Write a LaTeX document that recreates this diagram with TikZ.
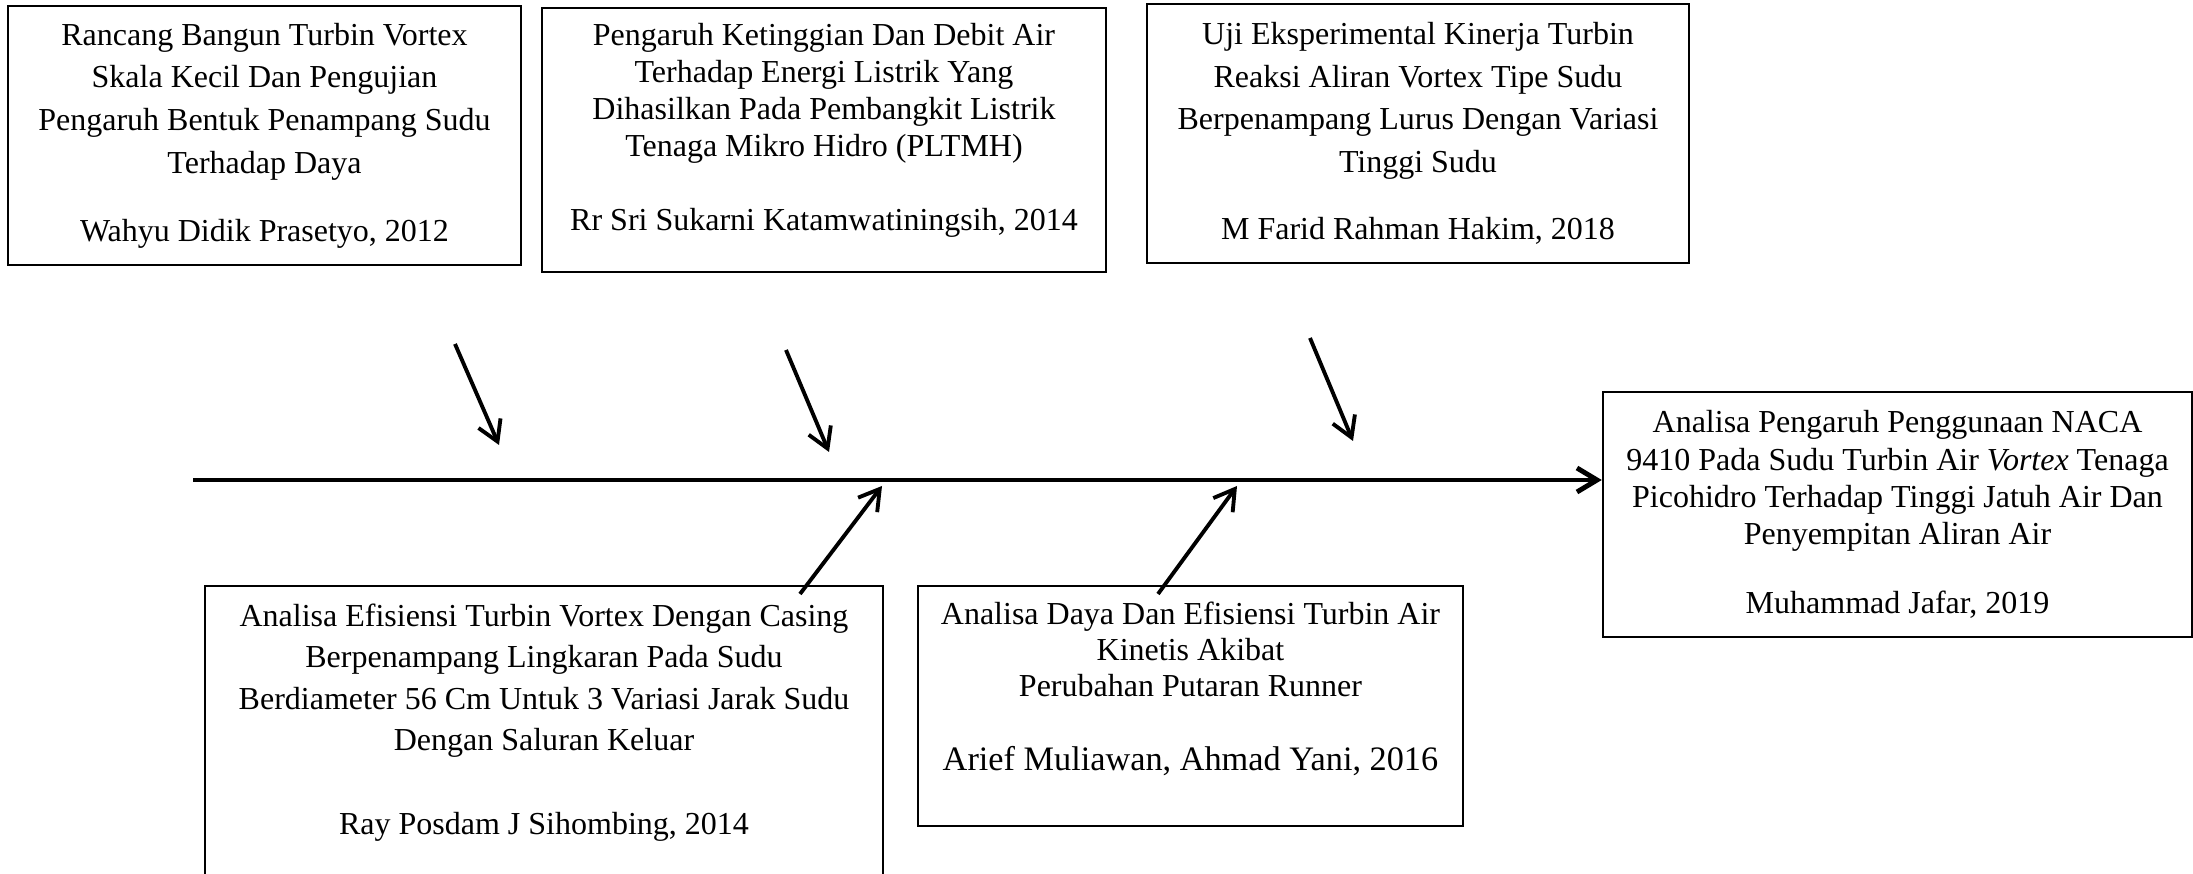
\documentclass[tikz,border=0pt]{standalone}
\usepackage{fontspec}
\setmainfont{Liberation Serif}
\usetikzlibrary{arrows.meta}

\begin{document}
\begin{tikzpicture}[x=0.01cm,y=-0.01cm,
                    >={Straight Barb[length=2mm,width=2.4mm]},
                    semithick]
  \tikzstyle{ref}=[draw,line width=0.6pt,align=center,inner sep=0pt]
  \tikzstyle{fish}=[->,line width=1.1pt]
  \useasboundingbox (0,0) rectangle (2193,874);

  % studies above the spine
  \node[ref,minimum width=5.13cm,minimum height=2.59cm,
        font=\fontsize{9.1}{12.2}\selectfont] (rancang) at (264.5,135.5)
       {Rancang Bangun Turbin Vortex\\ Skala Kecil Dan Pengujian\\
        Pengaruh Bentuk Penampang Sudu\\ Terhadap Daya\\[7pt]
        Wahyu Didik Prasetyo, 2012};
  \node[ref,minimum width=5.64cm,minimum height=2.64cm,
        font=\fontsize{9.1}{10.5}\selectfont] (pengaruh) at (824,140)
       {Pengaruh Ketinggian Dan Debit Air\\ Terhadap Energi Listrik Yang\\
        Dihasilkan Pada Pembangkit Listrik\\ Tenaga Mikro Hidro (PLTMH)\\[10.5pt]
        Rr Sri Sukarni Katamwatiningsih, 2014\\[-3pt]\mbox{}};
  \node[ref,minimum width=5.42cm,minimum height=2.59cm,
        font=\fontsize{9.1}{12.1}\selectfont] (uji) at (1418,133.5)
       {Uji Eksperimental Kinerja Turbin\\ Reaksi Aliran Vortex Tipe Sudu\\
        Berpenampang Lurus Dengan Variasi\\ Tinggi Sudu\\[7pt]
        M Farid Rahman Hakim, 2018};

  % the study itself
  \node[ref,minimum width=5.89cm,minimum height=2.45cm,
        font=\fontsize{9.1}{10.6}\selectfont] (analisa) at (1897.5,514.5)
       {Analisa Pengaruh Penggunaan NACA\\
        9410 Pada Sudu Turbin Air \textit{Vortex} Tenaga\\
        Picohidro Terhadap Tinggi Jatuh Air Dan\\ Penyempitan Aliran Air\\[9pt]
        Muhammad Jafar, 2019};

  % studies below the spine
  \node[ref,minimum width=6.78cm,minimum height=3.04cm,
        font=\fontsize{9.1}{11.8}\selectfont] (efisiensi) at (544,738)
       {Analisa Efisiensi Turbin Vortex Dengan Casing\\
        Berpenampang Lingkaran Pada Sudu\\
        Berdiameter 56 Cm Untuk 3 Variasi Jarak Sudu\\
        Dengan Saluran Keluar\\[12pt]
        Ray Posdam J Sihombing, 2014\\[-1pt]\mbox{}};
  \node[ref,minimum width=5.45cm,minimum height=2.40cm,
        font=\fontsize{9.1}{10.2}\selectfont] (daya) at (1190.5,706)
       {Analisa Daya Dan Efisiensi Turbin Air\\ Kinetis Akibat\\
        Perubahan Putaran Runner\\[10.8pt]
        {\fontsize{9.75}{10.2}\selectfont Arief Muliawan, Ahmad Yani, 2016}\\[1pt]\mbox{}};

  \coordinate (spine) at (193,480);
  \coordinate (t1) at (455,344);  \coordinate (h1) at (499,445);
  \coordinate (t2) at (786,350);  \coordinate (h2) at (829,452);
  \coordinate (t3) at (1310,338); \coordinate (h3) at (1353,441);
  \coordinate (t4) at (800,594);  \coordinate (h4) at (882,486);
  \coordinate (t5) at (1158,594); \coordinate (h5) at (1237,486);

  \draw[->,line width=1.4pt] (spine) -- (spine -| analisa.west);
  \path[fish] (t1) edge (h1)
              (t2) edge (h2)
              (t3) edge (h3)
              (t4) edge (h4)
              (t5) edge (h5);

\end{tikzpicture}
\end{document}
